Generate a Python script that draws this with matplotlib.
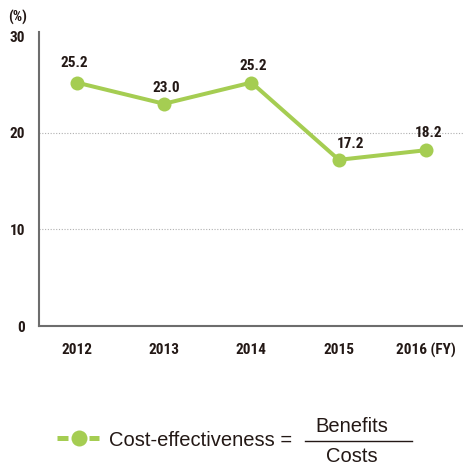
import matplotlib.pyplot as plt

years = [2012, 2013, 2014, 2015, 2016]
year_labels = ["2012", "2013", "2014", "2015", "2016 (FY)"]
values = [25.2, 23.0, 25.2, 17.2, 18.2]
value_labels = ["25.2", "23.0", "25.2", "17.2", "18.2"]
y_ticks = [0, 10, 20, 30]

green = "#a5cd52"
axis_grey = "#6d6d6d"
ink = "#231815"
bold_font = ["Roboto Condensed", "DejaVu Sans"]
plain_font = ["Liberation Sans", "DejaVu Sans"]

# label centre offsets in pixels (dx, dy up) relative to each point
label_offsets = [(-2, 19.5), (2, 16), (1.5, 16.5), (12, 16), (2.5, 17)]

PX = 0.72  # points per pixel at 100 dpi
W, H = 463, 466

fig = plt.figure(figsize=(4.63, 4.66), dpi=100)
ax = fig.add_axes([39 / W, 1 - 326 / H, 1 - 39 / W, (326 - 32) / H])

ax.plot(years, values, color=green, lw=4 * PX, marker="o", ms=14 * PX,
        markeredgewidth=0, zorder=3, clip_on=False)

for x, y, lab, (dx, dy) in zip(years, values, value_labels, label_offsets):
    ax.annotate(lab, (x, y), xytext=(dx * PX, dy * PX), textcoords="offset points",
                ha="center", va="center", fontsize=11, fontweight="bold",
                family=bold_font, color=ink)

ax.set_xlim(2011.57, 2016.42)
ax.set_ylim(0, 30.43)
ax.set_yticks(y_ticks)
ax.set_yticklabels([str(t) for t in y_ticks])
ax.set_xticks(years)
ax.set_xticklabels(year_labels)
for t in ax.get_xticklabels() + ax.get_yticklabels():
    t.set_fontweight("bold")
    t.set_family(bold_font)
    t.set_fontsize(11)
    t.set_color(ink)
ax.tick_params(length=0)
ax.tick_params(axis="x", pad=12)
ax.tick_params(axis="y", pad=10)

for s in ["top", "right"]:
    ax.spines[s].set_visible(False)
for s in ["left", "bottom"]:
    ax.spines[s].set_color(axis_grey)
    ax.spines[s].set_linewidth(1.5)

for t in [10, 20]:
    ax.axhline(t, color="#b0b0b0", lw=0.8, ls=(0, (1, 1.5)), zorder=1)

fig.text(8 / W, 1 - 17 / H, "(%)", ha="left", va="center", fontsize=10.5,
         fontweight="bold", family=bold_font, color=ink)

# legend-style formula at the bottom
ly = 1 - 438 / H
for x0, x1 in [(57, 68), (89, 99)]:
    fig.add_artist(plt.Line2D([x0 / W, x1 / W], [ly, ly], color=green, lw=5 * PX,
                              solid_capstyle="butt", transform=fig.transFigure))
fig.add_artist(plt.Line2D([79 / W], [ly], color=green, marker="o", ms=16 * PX,
                          markeredgewidth=0, transform=fig.transFigure))
fig.text(109 / W, 1 - 440 / H, "Cost-effectiveness =", ha="left", va="center",
         fontsize=14.5, family=plain_font, color=ink)
fig.add_artist(plt.Line2D([305 / W, 412 / W], [1 - 441 / H] * 2, color=ink,
                          lw=1, transform=fig.transFigure))
fig.text(352 / W, 1 - 427 / H, "Benefits", ha="center", va="center",
         fontsize=14.5, family=plain_font, color=ink)
fig.text(352 / W, 1 - 457 / H, "Costs", ha="center", va="center",
         fontsize=14.5, family=plain_font, color=ink)

fig.savefig("out.png", dpi=100)
